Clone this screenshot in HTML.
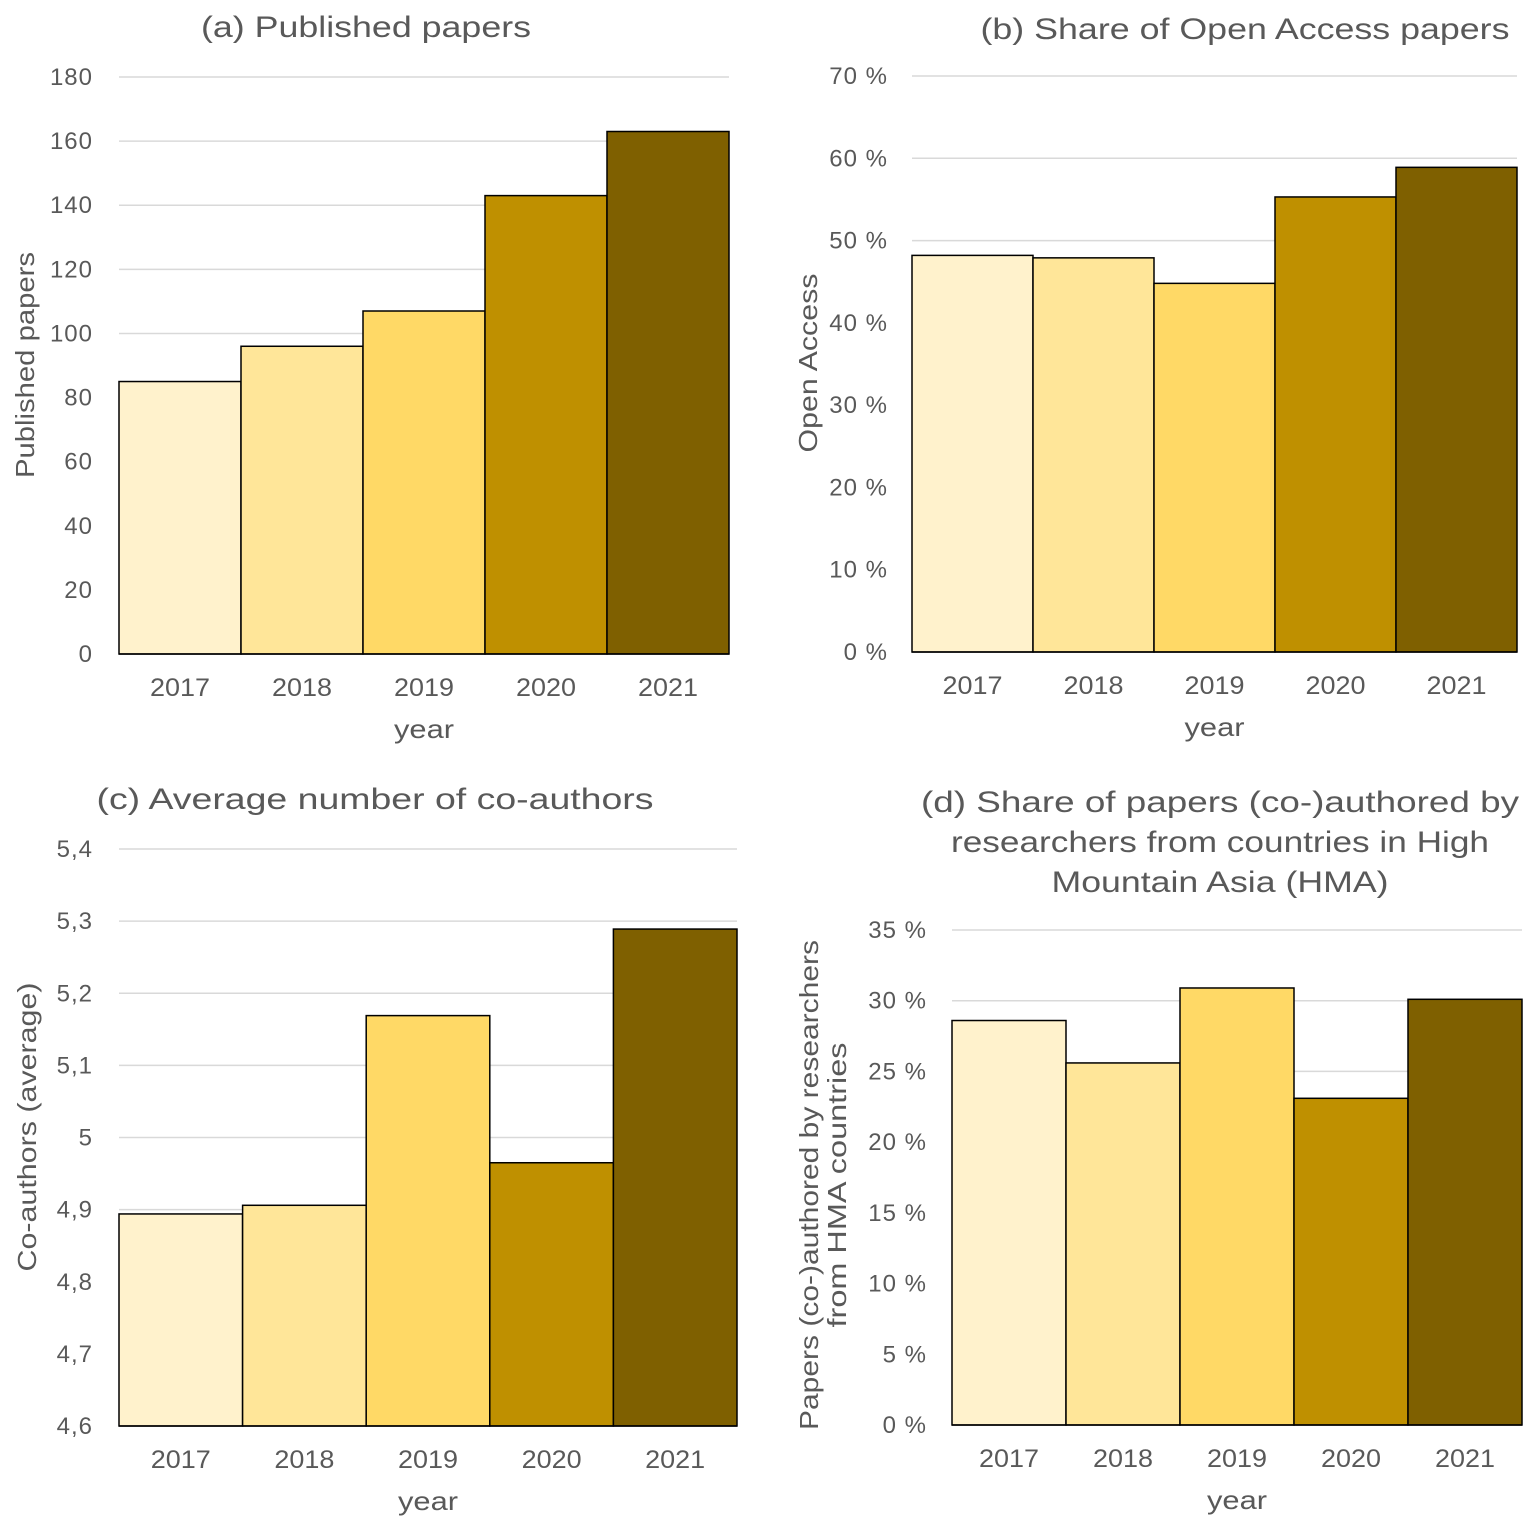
<!DOCTYPE html>
<html><head><meta charset="utf-8">
<style>
body{margin:0;background:#fff;}
svg{display:block;font-family:"Liberation Sans",sans-serif;}
text{fill:#595959;}
</style></head>
<body>
<svg id="chart" width="1536" height="1529" viewBox="0 0 1536 1529"></svg>
<script>
const years = ["2017","2018","2019","2020","2021"];
const papersValues = [85,96,107,143,163];
const oaValues = [48.2,47.9,44.8,55.3,58.9];
const coauthValues = [4.894,4.906,5.169,4.965,5.289];
const hmaValues = [28.6,25.6,30.9,23.1,30.1];
const papersTicks = [0,20,40,60,80,100,120,140,160,180];
const oaTicks = [0,10,20,30,40,50,60,70];
const coauthTicks = [4.6,4.7,4.8,4.9,5,5.1,5.2,5.3,5.4];
const hmaTicks = [0,5,10,15,20,25,30,35];
const colors = ["#FFF2CC","#FFE699","#FFD966","#BF9000","#7F6000"];
const NS="http://www.w3.org/2000/svg";
const svg=document.getElementById('chart');
function mk(tag,attrs,parent){const e=document.createElementNS(NS,tag);for(const k in attrs)e.setAttribute(k,attrs[k]);(parent||svg).appendChild(e);return e;}

function panel(o){
  const g=mk('g',{});
  
  
  const ymin=o.ticks[0],ymax=o.ticks[o.ticks.length-1];
  const y=v=>o.y0+(v-ymin)/(ymax-ymin)*(o.y1-o.y0);
  const bw=(o.x1-o.x0)/o.vals.length;
  const x=i=>o.x0+i*bw;
  o.ticks.forEach(t=>{
    if(t!==ymin){const l=mk('line',{x1:o.x0,x2:o.gx1||o.x1,y1:y(t),y2:y(t),stroke:'#d9d9d9','stroke-width':1.5},g);
    }
    const tx=mk('text',{x:o.tx,y:y(t)+8,'text-anchor':'end','font-size':24,'letter-spacing':1},g);
    tx.textContent=o.fmt(t);
    
  });
  o.vals.forEach((v,i)=>{
    const r=mk('rect',{x:x(i),y:y(v),width:bw,height:o.y0-y(v),fill:colors[i],stroke:'#000','stroke-width':1.5},g);
    
    const t=mk('text',{x:x(i)+bw/2,y:o.y0+42,'text-anchor':'middle','font-size':25,textLength:60,lengthAdjust:'spacingAndGlyphs'},g);
    t.textContent=years[i];
    
  });
  const ax=mk('line',{x1:o.x0,x2:o.x1,y1:o.y0,y2:o.y0,stroke:'#000','stroke-width':1.5},g);
  
  const xt=mk('text',{x:(o.x0+o.x1)/2,y:o.y0+84,'text-anchor':'middle','font-size':26,textLength:60,lengthAdjust:'spacingAndGlyphs'},g);
  xt.textContent='year';
  o.ylab.forEach((s,k)=>{
    const yt=mk('text',{x:0,y:0,'text-anchor':'middle','font-size':26,textLength:o.ylw[k],lengthAdjust:'spacingAndGlyphs',transform:`translate(${o.ylx+k*28},${o.yly}) rotate(-90)`},g);
    yt.textContent=s;
  });
  o.title.forEach((s,k)=>{
    const tt=mk('text',{x:o.ttx,y:o.tty+k*40,'text-anchor':'middle','font-size':30,textLength:o.tw[k],lengthAdjust:'spacingAndGlyphs'},g);
    tt.textContent=s;
  });
}
const pct=t=>t+' %';
panel({name:'panel-a-published-papers',vals:papersValues,ticks:papersTicks,x0:119,x1:729,y0:654,y1:77,tx:93,fmt:t=>t,
  ylab:['Published papers'],ylw:[226],ylx:34,yly:365,title:['(a) Published papers'],tw:[330],ttx:366,tty:37});
panel({name:'panel-b-open-access',vals:oaValues,ticks:oaTicks,x0:912,x1:1517,y0:652,y1:76,tx:888,fmt:pct,
  ylab:['Open Access'],ylw:[179],ylx:817,yly:363,title:['(b) Share of Open Access papers'],tw:[529],ttx:1245,tty:39});
panel({name:'panel-c-coauthors',vals:coauthValues,ticks:coauthTicks,x0:119,x1:737,y0:1426,y1:849,tx:93,fmt:t=>String(t).replace('.',','),
  ylab:['Co-authors (average)'],ylw:[289],ylx:36,yly:1127,title:['(c) Average number of co-authors'],tw:[557],ttx:375,tty:809});
panel({name:'panel-d-hma',vals:hmaValues,ticks:hmaTicks,x0:952,x1:1522,y0:1425,y1:930,tx:927,fmt:pct,
  ylab:['Papers (co-)authored by researchers','from HMA countries'],ylw:[490,285],ylx:818,yly:1185,
  title:['(d) Share of papers (co-)authored by','researchers from countries in High','Mountain Asia (HMA)'],tw:[598,538,337],ttx:1220,tty:812});
</script>
</body></html>
